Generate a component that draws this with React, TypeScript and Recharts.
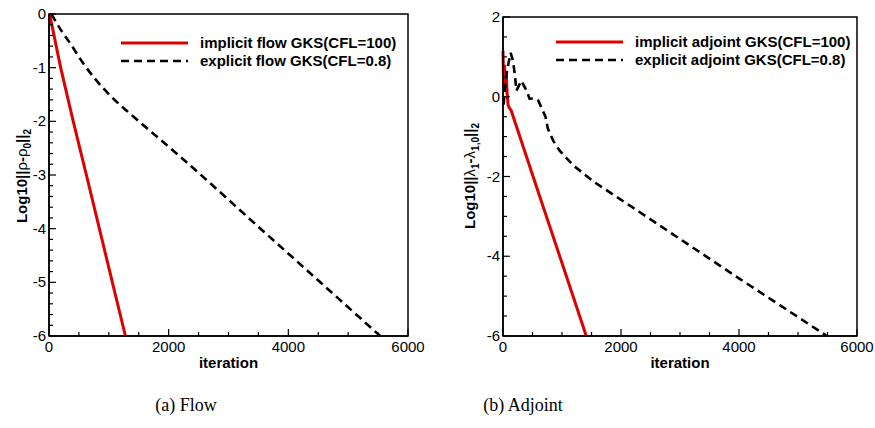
import { LineChart, Line, XAxis, YAxis, ReferenceArea, Legend } from "recharts";

// (a) flow residual
const flowImpIter = [10, 195, 405, 625, 842, 1059, 1277];
const flowImpRes = [0, -1, -2, -3, -4, -5, -6];
const flowExpIter = [40, 200, 374, 560, 764, 1050, 1400, 2185, 3535, 4535, 5535];
const flowExpRes = [0, -0.3, -0.58, -0.9, -1.2, -1.55, -1.9, -2.65, -4, -5, -6];

// (b) adjoint residual
const adjImpIter = [0, 12, 25, 40, 55, 70, 85, 100, 140, 600, 1000, 1411];
const adjImpRes = [1.15, 0.2, 0.8, 0.3, 0.55, 0.1, -0.2, -0.26, -0.35, -2.4, -4.17, -6];
const adjExpIter = [10, 40, 70, 130, 170, 205, 226, 310, 400, 450, 530, 600, 660, 720, 760, 850, 960, 1190, 1537, 2314, 4005, 5490];
const adjExpRes = [-0.2, 0.3, 0.68, 1.1, 0.9, 0.5, 0.15, 0.4, 0.15, -0.05, -0.04, -0.1, -0.3, -0.5, -0.8, -1.1, -1.35, -1.72, -2.13, -2.89, -4.56, -6];

const X_MAJOR = [0, 2000, 4000, 6000];
const X_MINOR = [500, 1000, 1500, 2500, 3000, 3500, 4500, 5000, 5500];
const FLOW_Y_MAJOR = [-6, -5, -4, -3, -2, -1, 0];
const FLOW_Y_MINOR = [-5.8, -5.6, -5.4, -5.2, -4.8, -4.6, -4.4, -4.2, -3.8, -3.6, -3.4, -3.2, -2.8, -2.6, -2.4, -2.2, -1.8, -1.6, -1.4, -1.2, -0.8, -0.6, -0.4, -0.2];
const ADJ_Y_MAJOR = [-6, -4, -2, 0, 2];
const ADJ_Y_MINOR = [-5.5, -5, -4.5, -3.5, -3, -2.5, -1.5, -1, -0.5, 0.5, 1, 1.5];

const RED = "#dc0000";
const SANS = "'Liberation Sans', Arial, sans-serif";

const toPts = (xs: number[], ys: number[]) => xs.map((it, i) => ({ it, r: ys[i] }));

const isMajor = (v: number, majors: number[]) => majors.some((m) => Math.abs(m - v) < 1e-6);

const makeXTick = (majors: number[]) => (props: any) => {
  const { x, y, payload } = props;
  const major = isMajor(payload.value, majors);
  return (
    <g>
      <line x1={x} y1={y} x2={x} y2={y - (major ? 7 : 4)} stroke="#000" strokeWidth={1.2} />
      {major && (
        <text x={x} y={y + 16} textAnchor="middle" fontSize={15} fontFamily={SANS} fill="#000">
          {payload.value}
        </text>
      )}
    </g>
  );
};

const makeYTick = (majors: number[]) => (props: any) => {
  const { x, y, payload } = props;
  const major = isMajor(payload.value, majors);
  return (
    <g>
      <line x1={x} y1={y} x2={x + (major ? 7 : 4)} y2={y} stroke="#000" strokeWidth={1.2} />
      {major && (
        <text x={x - 3} y={y + 5} textAnchor="end" fontSize={15} fontFamily={SANS} fill="#000">
          {payload.value}
        </text>
      )}
    </g>
  );
};

// solid (implicit) entry first, dashed (explicit) second
const LegendBox = ({ payload }: any) => {
  const items = [...(payload || [])].sort((a: any, b: any) => {
    const da = a.payload?.strokeDasharray ? 1 : 0;
    const db = b.payload?.strokeDasharray ? 1 : 0;
    return da - db;
  });
  return (
    <svg width={320} height={40}>
      {items.map((e: any, i: number) => {
        const dash = e.payload?.strokeDasharray;
        return (
          <g key={i}>
            <line
              x1={1}
              x2={68}
              y1={10 + i * 18}
              y2={10 + i * 18}
              stroke={e.color}
              strokeWidth={dash ? 2.6 : 3.2}
              strokeDasharray={dash}
            />
            <text x={80} y={15 + i * 18} fontSize={15} fontWeight="bold" fontFamily={SANS} fill="#000">
              {e.value}
            </text>
          </g>
        );
      })}
    </svg>
  );
};

const FlowYLabel = () => (
  <text transform="translate(27,176) rotate(-90)" textAnchor="middle" fontSize={15} fontWeight="bold" fontFamily={SANS} fill="#000">
    Log10||<tspan fontWeight="normal">ρ</tspan>-<tspan fontWeight="normal">ρ</tspan>
    <tspan dy={4} fontSize={10}>0</tspan>
    <tspan dy={-4}>||</tspan>
    <tspan dy={4} fontSize={10}>2</tspan>
  </text>
);

const AdjYLabel = () => (
  <text transform="translate(35,176) rotate(-90)" textAnchor="middle" fontSize={15} fontWeight="bold" fontFamily={SANS} fill="#000">
    Log10||<tspan fontWeight="normal">λ</tspan>
    <tspan dy={4} fontSize={10}>1</tspan>
    <tspan dy={-4}>-</tspan>
    <tspan fontWeight="normal">λ</tspan>
    <tspan dy={4} fontSize={10}>1,0</tspan>
    <tspan dy={-4}>||</tspan>
    <tspan dy={4} fontSize={10}>2</tspan>
  </text>
);

const XLabel = ({ viewBox }: any) => (
  <text x={viewBox.x + viewBox.width / 2} y={viewBox.y + 32} textAnchor="middle" fontSize={15} fontWeight="bold" fontFamily={SANS} fill="#000">
    iteration
  </text>
);

interface PanelProps {
  left: number;
  width: number;
  plotWidth: number;
  marginLeft: number;
  marginTop: number;
  yDomain: [number, number];
  yMajor: number[];
  yMinor: number[];
  imp: { it: number; r: number }[];
  exp: { it: number; r: number }[];
  expCurve: "linear" | "monotone";
  impName: string;
  expName: string;
  legendLeft: number;
  legendTop: number;
  YLabel: () => any;
}

function Panel(p: PanelProps) {
  const yTicks = [...p.yMajor, ...p.yMinor].sort((a, b) => a - b);
  const xTicks = [...X_MAJOR, ...X_MINOR].sort((a, b) => a - b);
  return (
    <div style={{ position: "absolute", left: p.left, top: 0 }}>
      <LineChart
        width={p.width}
        height={380}
        margin={{ top: p.marginTop, right: p.width - p.marginLeft - 40 - p.plotWidth, bottom: 4, left: p.marginLeft }}
      >
        <XAxis
          type="number"
          dataKey="it"
          domain={[0, 6000]}
          ticks={xTicks}
          interval={0}
          tickSize={0}
          tickMargin={0}
          tickLine={false}
          tick={makeXTick(X_MAJOR)}
          axisLine={{ stroke: "#000", strokeWidth: 1.5 }}
          height={40}
          label={{ content: XLabel }}
        />
        <YAxis
          type="number"
          dataKey="r"
          domain={p.yDomain}
          ticks={yTicks}
          interval={0}
          tickSize={0}
          tickMargin={0}
          tickLine={false}
          tick={makeYTick(p.yMajor)}
          axisLine={{ stroke: "#000", strokeWidth: 1.5 }}
          width={40}
        />
        <ReferenceArea x1={0} x2={6000} y1={p.yDomain[0]} y2={p.yDomain[1]} fill="none" fillOpacity={0} stroke="#000" strokeWidth={1.5} />
        <Line data={p.imp} dataKey="r" name={p.impName} stroke={RED} strokeWidth={3} dot={false} isAnimationActive={false} />
        <Line
          data={p.exp}
          type={p.expCurve}
          dataKey="r"
          name={p.expName}
          stroke="#000"
          strokeWidth={2.6}
          strokeDasharray="8 5"
          dot={false}
          isAnimationActive={false}
        />
        <Legend
          layout="vertical"
          align="center"
          verticalAlign="middle"
          content={LegendBox}
          wrapperStyle={{ position: "absolute", left: p.legendLeft, top: p.legendTop, width: 320, height: 40 }}
        />
        <p.YLabel />
      </LineChart>
    </div>
  );
}

export default function App() {
  return (
    <div style={{ position: "absolute", left: 0, top: 0, width: 875, height: 428, background: "#fff", overflow: "hidden" }}>
      <Panel
        left={0}
        width={430}
        plotWidth={359}
        marginLeft={9}
        marginTop={14}
        yDomain={[-6, 0]}
        yMajor={FLOW_Y_MAJOR}
        yMinor={FLOW_Y_MINOR}
        imp={toPts(flowImpIter, flowImpRes)}
        exp={toPts(flowExpIter, flowExpRes)}
        expCurve="monotone"
        impName="implicit flow GKS(CFL=100)"
        expName="explicit flow GKS(CFL=0.8)"
        legendLeft={120}
        legendTop={33}
        YLabel={FlowYLabel}
      />
      <Panel
        left={440}
        width={435}
        plotWidth={354}
        marginLeft={23}
        marginTop={17}
        yDomain={[-6, 2]}
        yMajor={ADJ_Y_MAJOR}
        yMinor={ADJ_Y_MINOR}
        imp={toPts(adjImpIter, adjImpRes)}
        exp={toPts(adjExpIter, adjExpRes)}
        expCurve="linear"
        impName="implicit adjoint GKS(CFL=100)"
        expName="explicit adjoint GKS(CFL=0.8)"
        legendLeft={115}
        legendTop={32}
        YLabel={AdjYLabel}
      />
      <div style={{ position: "absolute", left: 0, width: 372, top: 395, textAlign: "center", fontFamily: "'Liberation Serif', serif", fontSize: 18 }}>
        (a) Flow
      </div>
      <div style={{ position: "absolute", left: 440, width: 166, top: 395, textAlign: "center", fontFamily: "'Liberation Serif', serif", fontSize: 18 }}>
        (b) Adjoint
      </div>
    </div>
  );
}
